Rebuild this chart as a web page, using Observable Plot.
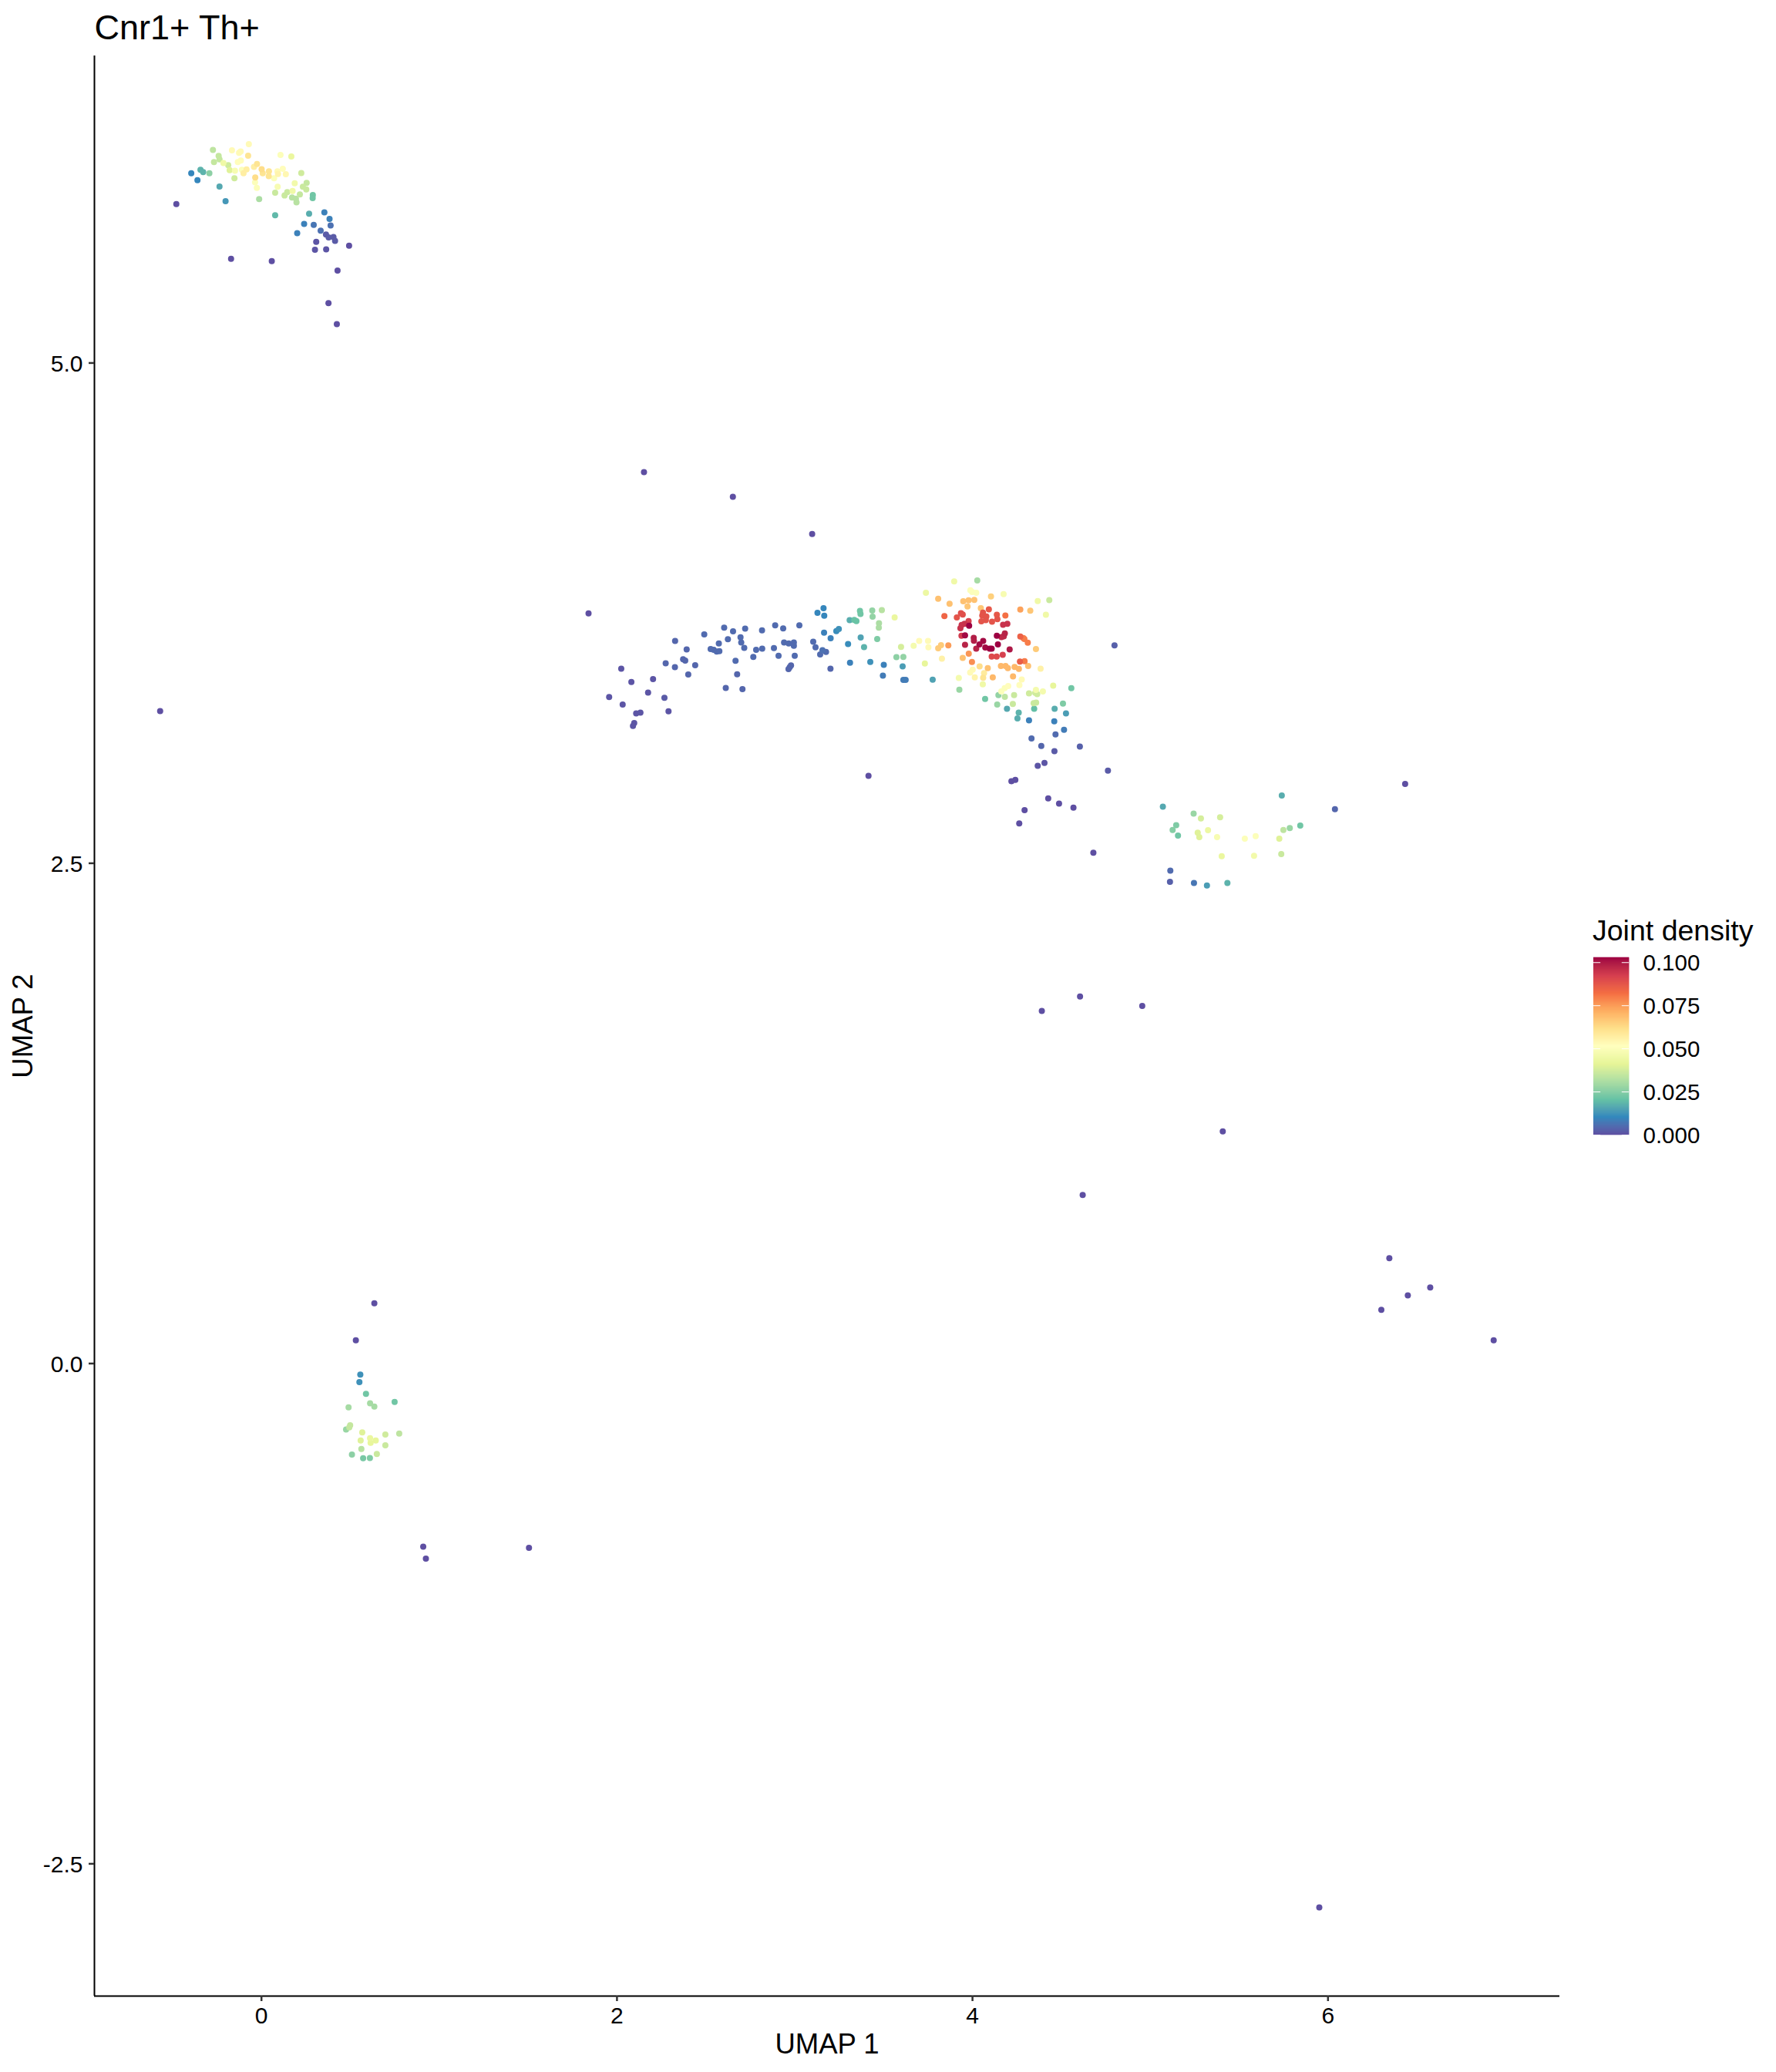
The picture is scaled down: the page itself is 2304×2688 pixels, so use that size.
<!DOCTYPE html>
<html>
<head>
<meta charset="utf-8">
<script src="https://cdn.jsdelivr.net/npm/d3@7"></script>
<script src="https://cdn.jsdelivr.net/npm/@observablehq/plot@0.6"></script>
<style>
html,body{margin:0;padding:0;background:#fff;}
#page{position:relative;width:2304px;height:2688px;overflow:hidden;font-family:"Liberation Sans",sans-serif;}
#page svg{display:block;}
#legendTitle{position:absolute;left:2066px;top:1185px;font-size:37.5px;line-height:44px;color:#000;white-space:nowrap;}
#legend{position:absolute;left:2067px;top:1232px;}
</style>
</head>
<body>
<div id="page"><div id="chart"></div><div id="legendTitle"></div><div id="legend"></div></div>
<script>
const chartTitle = "Cnr1+ Th+";
const xLabel = "UMAP 1";
const yLabel = "UMAP 2";
const legendLabel = "Joint density";
const xTicks = [0, 2, 4, 6];
const yTicks = [-2.5, 0, 2.5, 5];
const legendTicks = [0, 0.025, 0.05, 0.075, 0.1];
const xDomain = [-0.9397, 7.3039];
const yDomain = [-3.161, 6.5347];
const densityMax = 0.1028;
const spectral = ["#5E4FA2","#3288BD","#66C2A5","#ABDDA4","#E6F598","#FFFFBF","#FEE08B","#FDAE61","#F46D43","#D53E4F","#9E0142"];

// [UMAP 1, UMAP 2, joint density]
const clusterTop = [
[-0.071,6.094,.053],[-0.273,6.065,.034],[-0.166,6.063,.053],[-0.126,6.050,.053],[-0.117,6.057,.053],[-0.075,6.036,.06],[0.107,6.040,.05],[0.168,6.032,.043],[-0.241,6.035,.035],[-0.236,6.018,.035],
[-0.267,6.004,.035],[-0.214,5.999,.045],[-0.133,6.004,.052],[-0.116,6.012,.052],[-0.187,5.989,.037],[-0.179,5.964,.04],[-0.149,5.961,.048],[-0.110,5.966,.05],[-0.084,5.967,.057],[-0.101,5.948,.057],
[-0.042,5.980,.057],[-0.025,5.994,.06],[0.001,5.968,.062],[0.007,5.948,.06],[0.042,5.958,.06],[0.041,5.934,.06],[-0.035,5.927,.062],[0.090,5.958,.053],[0.093,5.944,.055],[0.120,5.970,.052],
[0.137,5.943,.054],[0.071,5.923,.05],[-0.036,5.903,.05],[-0.026,5.875,.05],[0.091,5.881,.048],[0.187,5.898,.046],[0.175,5.860,.045],[0.224,5.949,.037],[0.254,5.900,.035],[0.233,5.881,.036],
[0.252,5.867,.036],[-0.152,5.923,.037],[0.077,5.851,.036],[0.145,5.854,.036],[0.130,5.837,.036],[0.216,5.842,.035],[0.172,5.827,.033],[0.194,5.821,.033],[0.197,5.803,.033],[-0.013,5.819,.031],
[0.289,5.839,.022],[0.288,5.824,.022],[0.268,5.746,.017],[0.077,5.738,.019],[0.354,5.753,.009],[0.383,5.720,.009],[0.389,5.687,.006],[0.240,5.695,.009],[0.294,5.690,.007],[0.333,5.661,.006],
[0.201,5.649,.009],[0.363,5.642,.002],[0.378,5.628,.002],[0.405,5.629,.002],[0.414,5.610,.002],[0.308,5.605,.001],[0.301,5.566,.001],[0.364,5.568,.001],[0.493,5.586,0],[-0.171,5.521,0],
[0.058,5.509,0],[0.428,5.462,0],[0.377,5.299,0],[0.424,5.194,0],[-0.479,5.794,0],[-0.395,5.948,.01],[-0.360,5.914,.01],[-0.343,5.966,.018],[-0.328,5.954,.018],[-0.293,5.948,.026],
[-0.236,5.882,.016],[-0.202,5.809,.013]
];
const clusterPeak = [
[3.897,3.909,.045],[4.027,3.913,.03],[3.738,3.852,.044],[3.988,3.864,.05],[3.998,3.856,.05],[4.021,3.852,.05],[4.104,3.833,.065],[4.175,3.845,.048],[3.807,3.822,.068],[3.871,3.797,.068],
[3.948,3.809,.068],[3.978,3.814,.068],[4.010,3.816,.068],[4.367,3.810,.045],[4.432,3.815,.036],[3.972,3.783,.067],[4.047,3.775,.067],[4.269,3.768,.074],[4.325,3.762,.067],[4.413,3.742,.045],
[4.092,3.769,.087],[4.059,3.753,.088],[4.055,3.738,.088],[4.078,3.733,.088],[4.075,3.715,.088],[4.050,3.709,.088],[4.110,3.707,.088],[4.137,3.742,.087],[4.140,3.720,.088],[4.185,3.738,.082],
[3.842,3.735,.084],[3.935,3.750,.089],[3.945,3.743,.089],[3.912,3.728,.088],[3.978,3.710,.092],[3.955,3.697,.095],[3.939,3.691,.095],[3.932,3.675,.095],[3.981,3.687,.103],[4.172,3.692,.095],
[4.196,3.697,.095],[4.182,3.649,.098],[4.176,3.634,.097],[4.163,3.630,.097],[4.137,3.637,.103],[3.938,3.637,.093],[3.958,3.639,.102],[4.007,3.626,.099],[4.008,3.612,.099],[4.060,3.611,.102],
[4.039,3.594,.102],[3.958,3.592,.098],[4.021,3.572,.098],[4.072,3.578,.102],[4.097,3.572,.103],[4.108,3.572,.103],[4.143,3.594,.103],[4.209,3.569,.1],[4.170,3.542,.092],[4.108,3.533,.09],
[4.136,3.533,.09],[4.269,3.633,.085],[4.286,3.625,.08],[4.292,3.621,.08],[4.311,3.602,.08],[4.357,3.571,.066],[4.799,3.589,.003],[3.700,3.611,.053],[3.750,3.611,.053],[3.669,3.587,.047],
[3.752,3.579,.053],[3.807,3.574,.066],[3.823,3.590,.066],[3.864,3.589,.075],[3.828,3.522,.056],[3.945,3.526,.068],[3.979,3.547,.076],[3.997,3.506,.077],[3.732,3.498,.042],[4.267,3.508,.086],
[4.293,3.510,.08],[4.160,3.486,.07],[4.186,3.486,.07],[4.199,3.475,.07],[4.237,3.481,.07],[4.261,3.471,.07],[4.313,3.486,.068],[4.383,3.472,.056],[4.040,3.484,.062],[4.086,3.475,.068],
[4.001,3.467,.053],[3.987,3.453,.053],[4.065,3.450,.058],[4.060,3.427,.06],[4.114,3.429,.07],[4.013,3.429,.055],[3.923,3.426,.047],[4.228,3.434,.07],[4.277,3.418,.053],[4.264,3.390,.052],
[3.776,3.417,.015],[4.058,3.394,.045],[4.201,3.386,.052],[4.181,3.375,.05],[4.162,3.359,.05],[4.454,3.388,.042],[4.357,3.366,.047],[4.396,3.359,.047],[4.556,3.375,.022],[3.926,3.367,.028],
[4.146,3.340,.027],[4.182,3.332,.034],[4.234,3.340,.036],[4.318,3.349,.037],[4.353,3.352,.037],[4.364,3.345,.037],[4.071,3.321,.022],[4.139,3.293,.028],[4.227,3.296,.036],[4.344,3.300,.036],
[4.358,3.303,.036],[4.509,3.298,.024],[4.194,3.272,.016],[4.347,3.272,.02],[4.462,3.272,.017],[4.260,3.253,.018],[4.526,3.249,.014],[4.253,3.224,.017],[4.318,3.214,.009],[4.460,3.209,.009],
[4.515,3.167,.008],[4.467,3.144,.005],[4.332,3.124,.005],[4.387,3.086,.004],[4.461,3.060,.002],[4.604,3.083,.003],[4.405,3.001,.001],[4.367,2.987,.001],[4.762,2.963,.002]
];
const clusterArc = [
[3.162,3.775,.01],[3.128,3.752,.01],[3.166,3.737,.01],[3.367,3.761,.022],[3.370,3.746,.022],[3.436,3.763,.027],[3.490,3.765,.033],[3.438,3.732,.027],[3.562,3.728,.043],[3.309,3.715,.017],
[3.335,3.716,.021],[3.347,3.710,.021],[3.474,3.700,.031],[3.473,3.677,.031],[3.248,3.671,.012],[3.234,3.660,.011],[3.165,3.652,.009],[3.202,3.624,.009],[3.371,3.628,.015],[3.464,3.621,.024],
[3.300,3.596,.011],[3.390,3.580,.018],[3.598,3.581,.038],[3.572,3.530,.026],[3.611,3.531,.027],[3.311,3.502,.009],[3.425,3.506,.012],[3.501,3.492,.009],[3.607,3.484,.014],[3.496,3.438,.008],
[3.611,3.416,.008],[3.624,3.416,.008],[3.201,3.472,.004],[3.104,3.607,.005],[3.117,3.579,.005],[3.143,3.544,.005],[3.156,3.565,.006],[3.176,3.556,.005],[3.026,3.689,.005],[2.935,3.674,.005],
[2.890,3.689,.005],[2.816,3.664,.005],[2.721,3.673,.005],[2.653,3.659,.005],[2.603,3.677,.005],[2.491,3.644,.005],[2.327,3.611,.004],[2.392,3.569,.004],[2.573,3.598,.005],[2.624,3.620,.005],
[2.695,3.629,.005],[2.699,3.603,.005],[2.716,3.576,.005],[2.783,3.567,.005],[2.817,3.572,.005],[2.883,3.575,.005],[2.940,3.603,.005],[2.966,3.598,.005],[2.995,3.603,.005],[2.995,3.587,.005],
[2.527,3.571,.005],[2.544,3.567,.005],[2.561,3.558,.005],[2.576,3.560,.005],[2.767,3.531,.005],[2.909,3.537,.005],[3.000,3.537,.005],[2.667,3.512,.005],[2.372,3.519,.004],[2.384,3.513,.004],
[2.274,3.499,.004],[2.326,3.480,.004],[2.440,3.490,.004],[2.979,3.489,.004],[2.972,3.480,.004],[2.965,3.470,.004],[2.401,3.443,.004],[2.676,3.444,.004],[2.612,3.376,.004],[2.706,3.370,.004],
[2.024,3.472,.001],[2.081,3.406,.001],[2.203,3.420,.001],[2.175,3.353,.001],[1.956,3.331,.001],[2.032,3.293,.001],[2.267,3.327,.002],[2.108,3.249,.001],[2.132,3.253,.001],[2.290,3.259,.001],
[2.097,3.201,.001],[2.090,3.186,.001]
];
const clusterLow = [
[0.556,-0.055,.012],[0.551,-0.093,.012],[0.588,-0.152,.022],[0.749,-0.192,.022],[0.611,-0.199,.03],[0.635,-0.215,.03],[0.490,-0.219,.03],[0.499,-0.309,.035],[0.494,-0.319,.035],[0.476,-0.330,.028],
[0.567,-0.344,.04],[0.697,-0.355,.037],[0.775,-0.350,.034],[0.611,-0.373,.043],[0.643,-0.385,.042],[0.614,-0.396,.042],[0.558,-0.385,.04],[0.697,-0.409,.036],[0.562,-0.427,.033],[0.649,-0.452,.036],
[0.509,-0.455,.026],[0.572,-0.473,.023],[0.610,-0.472,.024]
];
const clusterRight = [
[5.071,2.783,.016],[5.740,2.839,.017],[6.039,2.770,.004],[5.244,2.748,.028],[5.285,2.724,.038],[5.393,2.730,.038],[5.146,2.690,.024],[5.126,2.666,.025],[5.156,2.638,.022],[5.267,2.653,.04],
[5.276,2.631,.04],[5.325,2.665,.044],[5.376,2.631,.048],[5.532,2.623,.05],[5.593,2.635,.05],[5.749,2.666,.034],[5.785,2.676,.028],[5.844,2.688,.022],[5.726,2.623,.04],[5.737,2.546,.036],
[5.584,2.537,.046],[5.402,2.535,.043],[5.113,2.463,.005],[5.111,2.407,.003],[5.246,2.401,.007],[5.319,2.389,.014],[5.434,2.401,.018]
];
const outliers = [
[-0.570,3.260,0],[1.840,3.749,0],[2.152,4.455,0],[2.652,4.331,0],[3.098,4.145,0],[3.415,2.937,0],[4.241,2.917,0],[4.219,2.910,0],[4.426,2.824,0],[4.487,2.798,0],
[4.568,2.778,0],[4.293,2.765,0],[4.263,2.699,0],[4.680,2.553,0],[6.434,2.896,0],[4.390,1.762,0],[4.605,1.834,0],[4.955,1.787,0],[5.408,1.160,0],[4.620,0.842,0],
[6.345,0.526,0],[6.575,0.380,0],[6.449,0.341,0],[6.300,0.268,0],[6.932,0.116,0],[5.951,-2.718,0],[0.635,0.301,0],[0.531,0.116,0],[0.910,-0.915,0],[0.925,-0.975,0],[1.505,-0.921,0]
];

const cells = [...clusterTop, ...clusterPeak, ...clusterArc, ...clusterLow, ...clusterRight, ...outliers]
  .map(([x, y, d]) => ({x, y, d}));
const colorDomain = spectral.map((_, i) => densityMax * i / (spectral.length - 1));
const colorOptions = {type: "linear", domain: colorDomain, range: spectral, interpolate: "lab"};

const chart = Plot.plot({
  width: 2304, height: 2688,
  marginLeft: 122, marginRight: 281, marginTop: 72, marginBottom: 99,
  style: {fontFamily: "Liberation Sans", background: "#fff", color: "#000"},
  x: {domain: xDomain},
  y: {domain: yDomain},
  color: colorOptions,
  marks: [
    Plot.dot(cells, {x: "x", y: "y", fill: "d", r: 4, sort: "d"}),
    Plot.ruleX([xDomain[0]], {stroke: "#000", strokeWidth: 2}),
    Plot.ruleY([yDomain[0]], {stroke: "#000", strokeWidth: 2}),
    Plot.axisX({ticks: xTicks, text: null, tickSize: 7, label: null, stroke: "#333", strokeWidth: 2.5}),
    Plot.axisY({ticks: yTicks, text: null, tickSize: 7, label: null, stroke: "#333", strokeWidth: 2.5}),
    Plot.axisX({ticks: xTicks, tickFormat: d => String(d), tickSize: 0, tickPadding: 14, fontSize: 30, label: null, fill: "#000"}),
    Plot.axisY({ticks: yTicks, tickFormat: d => d.toFixed(1), tickSize: 0, tickPadding: 15, dy: 1, fontSize: 30, label: null, fill: "#000"}),
    Plot.text([chartTitle], {frameAnchor: "top-left", textAnchor: "start", lineAnchor: "bottom", dy: -22, fontSize: 45, fill: "#000"}),
    Plot.text([xLabel], {frameAnchor: "bottom", lineAnchor: "middle", dy: 63, fontSize: 36.5, fill: "#000"}),
    Plot.text([yLabel], {frameAnchor: "left", textAnchor: "middle", rotate: -90, lineAnchor: "middle", dx: -92, fontSize: 36.5, fill: "#000"})
  ]
});
document.getElementById("chart").appendChild(chart);
document.getElementById("legendTitle").textContent = legendLabel;

const colorScale = d3.scaleLinear().domain(colorDomain).range(spectral).interpolate(d3.interpolateLab);
const steps = d3.range(0, 230).map(i => ({y1: densityMax * i / 230, y2: densityMax * (i + 1) / 230}));
const legend = Plot.plot({
  width: 237, height: 260,
  marginLeft: 0, marginRight: 191, marginTop: 10, marginBottom: 20,
  style: {fontFamily: "Liberation Sans", background: "transparent", color: "#000"},
  x: {domain: [0, 1], axis: null},
  y: {domain: [0, densityMax], axis: null},
  marks: [
    Plot.rect(steps, {x1: 0, x2: 1, y1: "y1", y2: "y2", fill: d => colorScale((d.y1 + d.y2) / 2), inset: -0.3}),
    Plot.ruleY(legendTicks, {x1: 0, x2: 0.2, stroke: "#fff", strokeWidth: 1}),
    Plot.ruleY(legendTicks, {x1: 0.8, x2: 1, stroke: "#fff", strokeWidth: 1}),
    Plot.text(legendTicks, {x: 1, y: d => d, text: d => d.toFixed(3), dx: 18, dy: 1, textAnchor: "start", fontSize: 29.5, fill: "#000"})
  ]
});
document.getElementById("legend").appendChild(legend);
</script>
</body>
</html>
